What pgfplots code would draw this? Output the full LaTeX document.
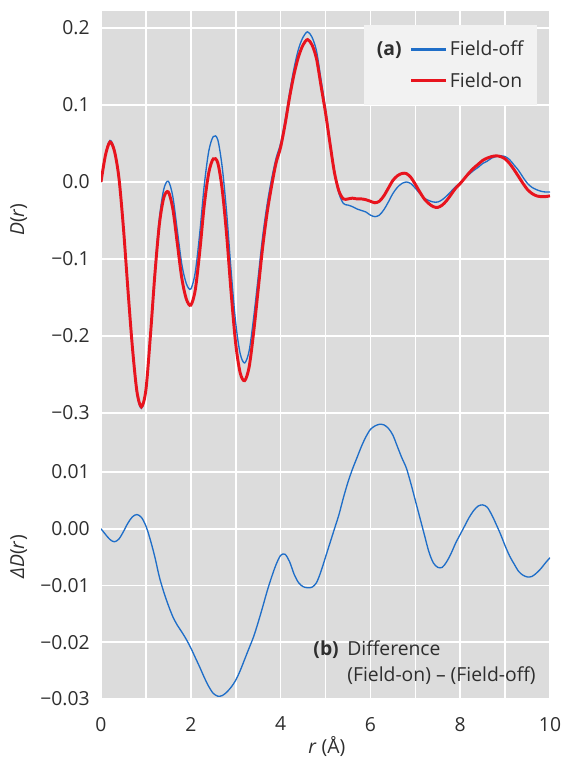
\documentclass[border=0pt]{standalone}
\usepackage{fontspec}
\setmainfont{Open Sans}
\usepackage{pgfplots}
\usepackage{pgfplotstable}
\pgfplotsset{compat=1.18}
\definecolor{bg}{HTML}{DCDCDC}
\definecolor{offblue}{HTML}{1F6EC8}
\definecolor{onred}{HTML}{E8141E}
\definecolor{txt}{HTML}{2E2E2E}
\definecolor{legbg}{HTML}{F2F2F2}

\pgfplotstableread{
r D
0.0 0.000
0.1 0.035
0.2 0.052
0.3 0.040
0.4 0.005
0.5 -0.060
0.6 -0.140
0.7 -0.215
0.8 -0.272
0.9 -0.292
1.0 -0.270
1.1 -0.200
1.2 -0.120
1.3 -0.055
1.4 -0.020
1.5 -0.013
1.6 -0.035
1.7 -0.080
1.8 -0.125
1.9 -0.152
2.0 -0.160
2.1 -0.140
2.2 -0.090
2.3 -0.030
2.4 0.012
2.5 0.030
2.6 0.025
2.7 -0.010
2.8 -0.070
2.9 -0.145
3.0 -0.210
3.1 -0.248
3.2 -0.258
3.3 -0.240
3.4 -0.195
3.5 -0.140
3.6 -0.085
3.7 -0.040
3.8 -0.005
3.9 0.025
4.0 0.045
4.1 0.075
4.2 0.110
4.3 0.140
4.4 0.163
4.5 0.178
4.6 0.185
4.7 0.178
4.8 0.160
4.9 0.125
5.0 0.090
5.1 0.050
5.2 0.012
5.3 -0.012
5.4 -0.022
5.5 -0.022
5.6 -0.021
5.7 -0.022
5.8 -0.022
5.9 -0.023
6.0 -0.025
6.1 -0.027
6.2 -0.025
6.3 -0.018
6.4 -0.008
6.5 0.002
6.6 0.008
6.7 0.011
6.8 0.011
6.9 0.006
7.0 -0.003
7.1 -0.013
7.2 -0.022
7.3 -0.028
7.4 -0.032
7.5 -0.033
7.6 -0.030
7.7 -0.024
7.8 -0.016
7.9 -0.008
8.0 -0.002
8.1 0.005
8.2 0.012
8.3 0.018
8.4 0.023
8.5 0.028
8.6 0.031
8.7 0.033
8.8 0.034
8.9 0.033
9.0 0.030
9.1 0.024
9.2 0.016
9.3 0.007
9.4 -0.002
9.5 -0.010
9.6 -0.015
9.7 -0.018
9.8 -0.019
9.9 -0.019
10.0 -0.018
}\fieldon

\pgfplotstableread{
r D
0.0 0.000
0.1 0.036
0.2 0.054
0.3 0.042
0.4 0.007
0.5 -0.060
0.6 -0.141
0.7 -0.217
0.8 -0.275
0.9 -0.294
1.0 -0.271
1.1 -0.198
1.2 -0.115
1.3 -0.047
1.4 -0.009
1.5 0.001
1.6 -0.019
1.7 -0.063
1.8 -0.107
1.9 -0.132
2.0 -0.139
2.1 -0.117
2.2 -0.066
2.3 -0.004
2.4 0.040
2.5 0.059
2.6 0.055
2.7 0.019
2.8 -0.041
2.9 -0.117
3.0 -0.183
3.1 -0.223
3.2 -0.235
3.3 -0.219
3.4 -0.176
3.5 -0.124
3.6 -0.071
3.7 -0.029
3.8 0.004
3.9 0.031
4.0 0.050
4.1 0.080
4.2 0.116
4.3 0.148
4.4 0.173
4.5 0.188
4.6 0.195
4.7 0.188
4.8 0.170
4.9 0.133
5.0 0.095
5.1 0.053
5.2 0.012
5.3 -0.015
5.4 -0.028
5.5 -0.030
5.6 -0.032
5.7 -0.035
5.8 -0.037
5.9 -0.039
6.0 -0.043
6.1 -0.045
6.2 -0.043
6.3 -0.036
6.4 -0.026
6.5 -0.015
6.6 -0.007
6.7 -0.002
6.8 0.000
6.9 -0.002
7.0 -0.008
7.1 -0.015
7.2 -0.021
7.3 -0.024
7.4 -0.026
7.5 -0.026
7.6 -0.023
7.7 -0.018
7.8 -0.012
7.9 -0.006
8.0 -0.001
8.1 0.005
8.2 0.010
8.3 0.015
8.4 0.019
8.5 0.024
8.6 0.027
8.7 0.031
8.8 0.033
8.9 0.034
9.0 0.033
9.1 0.029
9.2 0.022
9.3 0.015
9.4 0.006
9.5 -0.002
9.6 -0.007
9.7 -0.010
9.8 -0.012
9.9 -0.013
10.0 -0.013
}\fieldoff

\pgfplotstableread{
r dD
0.0 0.0000
0.1 -0.0010
0.2 -0.0019
0.3 -0.0023
0.4 -0.0018
0.5 -0.0005
0.6 0.0010
0.7 0.0021
0.8 0.0025
0.9 0.0020
1.0 0.0005
1.1 -0.0020
1.2 -0.0050
1.3 -0.0085
1.4 -0.0112
1.5 -0.0135
1.6 -0.0155
1.7 -0.0170
1.8 -0.0182
1.9 -0.0195
2.0 -0.0210
2.1 -0.0227
2.2 -0.0244
2.3 -0.0262
2.4 -0.0278
2.5 -0.0290
2.6 -0.0295
2.7 -0.0294
2.8 -0.0288
2.9 -0.0279
3.0 -0.0267
3.1 -0.0250
3.2 -0.0230
3.3 -0.0210
3.4 -0.0190
3.5 -0.0165
3.6 -0.0138
3.7 -0.0110
3.8 -0.0085
3.9 -0.0063
4.0 -0.0047
4.1 -0.0045
4.2 -0.0058
4.3 -0.0080
4.4 -0.0095
4.5 -0.0102
4.6 -0.0104
4.7 -0.0103
4.8 -0.0095
4.9 -0.0075
5.0 -0.0050
5.1 -0.0025
5.2 0.0000
5.3 0.0025
5.4 0.0055
5.5 0.0082
5.6 0.0105
5.7 0.0125
5.8 0.0145
5.9 0.0162
6.0 0.0175
6.1 0.0181
6.2 0.0184
6.3 0.0183
6.4 0.0177
6.5 0.0165
6.6 0.0145
6.7 0.0125
6.8 0.0107
6.9 0.0080
7.0 0.0050
7.1 0.0020
7.2 -0.0010
7.3 -0.0040
7.4 -0.0060
7.5 -0.0068
7.6 -0.0068
7.7 -0.0058
7.8 -0.0043
7.9 -0.0025
8.0 -0.0010
8.1 0.0005
8.2 0.0020
8.3 0.0032
8.4 0.0040
8.5 0.0042
8.6 0.0038
8.7 0.0025
8.8 0.0008
8.9 -0.0010
9.0 -0.0030
9.1 -0.0048
9.2 -0.0062
9.3 -0.0075
9.4 -0.0082
9.5 -0.0085
9.6 -0.0084
9.7 -0.0078
9.8 -0.0070
9.9 -0.0060
10.0 -0.0051
}\diffD

\pgfplotsset{
  base/.style={
    scale only axis, width=336.75pt,
    xmin=0, xmax=10,
    axis background/.style={fill=bg},
    axis line style={draw=none},
    major tick length=0pt, minor tick length=0pt,
    xtick={0,2,4,6,8,10}, minor xtick={1,3,5,7,9},
    grid=both,
    major grid style={white, line width=1.2pt},
    minor grid style={white, line width=1.2pt},
    tick label style={font=\fontsize{14.5}{17}\selectfont, text=txt},
    label style={font=\fontsize{14.5}{17}\selectfont, text=txt},
    yticklabel style={xshift=-5pt},
    scaled y ticks=false,
  }
}

\begin{document}
\begin{tikzpicture}
\useasboundingbox (0,0) rectangle (423pt,571.5pt);
\begin{axis}[base,
  at={(75.75pt,256.5pt)}, anchor=south west, height=306.75pt,
  ymin=-0.3091, ymax=0.2221,
  ytick={-0.3,-0.2,-0.1,0,0.1,0.2},
  yticklabels={−0.3,−0.2,−0.1,0.0,0.1,0.2},
  xticklabels={},
  ylabel={\textit{D}(\textit{r})},
  ylabel style={at={(axis description cs:-0.183,0.49)}, anchor=center},
  legend columns=2,
  legend image code/.code={\draw[#1] (0pt,0pt) -- (26pt,0pt);},
  legend style={at={(axis description cs:0.971,0.966)}, anchor=north east,
    fill=legbg, draw=none, font=\fontsize{14.5}{17}\selectfont, text=txt,
    inner xsep=8pt, inner ysep=10pt, row sep=7pt,
    /tikz/every even column/.append style={column sep=4pt}},
  legend cell align=left,
]
\addplot[offblue, line width=1pt, smooth, forget plot] table[x=r,y=D] {\fieldoff};
\addplot[onred, line width=2.2pt, smooth, forget plot] table[x=r,y=D] {\fieldon};
\addlegendimage{empty legend}\addlegendentry{\textbf{(a)}}
\addlegendimage{offblue, line width=1.6pt}\addlegendentry{Field-off}
\addlegendimage{empty legend}\addlegendentry{}
\addlegendimage{onred, line width=2.2pt}\addlegendentry{Field-on}
\end{axis}

\begin{axis}[base,
  at={(75.75pt,47.25pt)}, anchor=south west, height=209.25pt,
  ymin=-0.03, ymax=0.01916,
  ytick={-0.03,-0.02,-0.01,0,0.01},
  yticklabels={−0.03,−0.02,−0.01,0.00,0.01},
  xticklabels={0,2,4,6,8,10},
  xticklabel style={yshift=-10pt},
  xlabel={\textit{r} (Å)},
  xlabel style={at={(axis description cs:0.503,0)}, anchor=center, yshift=-36pt},
  ylabel={\textit{ΔD}(\textit{r})},
  ylabel style={at={(axis description cs:-0.183,0.509)}, anchor=center},
]
\addplot[offblue, line width=1pt, smooth] table[x=r,y=dD] {\diffD};
\node[anchor=base west, inner sep=0pt, font=\fontsize{14.5}{19}\selectfont, text=txt]
  at (axis cs:5.48,-0.02238)
  {\begin{tabular}[t]{@{}l@{}}Difference\\(Field-on) – (Field-off)\end{tabular}};
\node[anchor=base east, inner sep=0pt, xshift=-6pt, font=\fontsize{14.5}{19}\selectfont, text=txt]
  at (axis cs:5.48,-0.02238) {\textbf{(b)}};
\end{axis}
\end{tikzpicture}
\end{document}
